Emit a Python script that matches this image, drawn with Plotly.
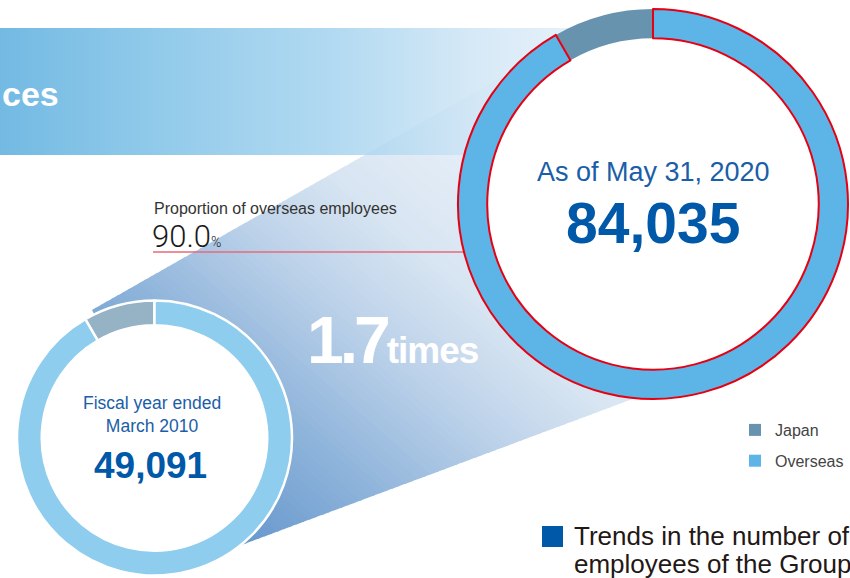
import numpy as np
import plotly.graph_objects as go

# ---------------- data ----------------
segments = ["Japan", "Overseas"]
share_2010 = [8.4, 91.6]
share_2020 = [8.3, 91.7]
total_2010 = "49,091"
total_2020 = "84,035"
label_2010 = ["Fiscal year ended", "March 2010"]
label_2020 = "As of May 31, 2020"
overseas_ratio = "90.0"
growth = "1.7"
title_lines = ["Trends in the number of", "employees of the Group"]

# ---------------- styling ----------------
W, H = 850, 578
C_SMALL, R_SMALL, HOLE_SMALL = (154.5, 438.0), 137.5, 0.82
C_BIG, R_BIG, HOLE_BIG = (653.0, 204.0), 195.0, 0.85
COL_2010 = ["#95B3C5", "#8FCDEE"]
COL_2020 = ["#6893AE", "#5DB4E7"]
BLUE_TXT = "#1A5EA8"
BLUE_NUM = "#0058A8"
FONT = "Liberation Sans, Arial, sans-serif"

fig = go.Figure()

# ---- diagonal gradient "cone" between the two rings (decoration) ----
cone = [(92, 310), (560, 44), (662, 388), (228, 550), (154.5, 438)]
gd = np.array([0.658, -0.753])
stops = [(-265, (98, 148, 203)), (-130, (141, 179, 218)), (0, (190, 211, 234)),
         (90, (216, 229, 242)), (230, (233, 241, 249)), (340, (242, 246, 251))]


def col_at(p):
    ps = [s[0] for s in stops]
    rgb = [np.interp(p, ps, [s[1][k] for s in stops]) for k in range(3)]
    return "rgb(%d,%d,%d)" % tuple(int(round(v)) for v in rgb)


def clip(poly, n, c, sign):
    out = []
    m = len(poly)
    for i in range(m):
        a, b = np.array(poly[i]), np.array(poly[(i + 1) % m])
        fa, fb = sign * (a @ n - c), sign * (b @ n - c)
        if fa >= 0:
            out.append(tuple(a))
        if fa * fb < 0:
            t = fa / (fa - fb)
            out.append(tuple(a + t * (b - a)))
    return out


proj = [np.array(p) @ gd for p in cone]
edges = np.arange(min(proj) - 1, max(proj) + 7, 6)
for a, b in zip(edges[:-1], edges[1:]):
    poly = clip(cone, gd, a - 0.8, 1)
    if len(poly) < 3:
        continue
    poly = clip(poly, gd, b + 0.8, -1)
    if len(poly) < 3:
        continue
    xs = [p[0] for p in poly] + [poly[0][0]]
    ys = [p[1] for p in poly] + [poly[0][1]]
    fig.add_trace(go.Scatter(x=xs, y=ys, mode="lines", fill="toself",
                             fillcolor=col_at((a + b) / 2), line=dict(width=0),
                             hoverinfo="skip", showlegend=False))

# ---- header banner (horizontal gradient) ----
fig.add_trace(go.Scatter(
    x=[0, 600, 600, 0, 0], y=[28, 28, 155, 155, 28], mode="lines", fill="toself",
    line=dict(width=0), hoverinfo="skip", showlegend=False,
    fillgradient=dict(type="horizontal", start=0, stop=600,
                      colorscale=[[0, "rgba(96,176,223,0.88)"],
                                  [0.25, "rgba(124,192,230,0.85)"],
                                  [0.55, "rgba(160,209,238,0.82)"],
                                  [0.8, "rgba(207,229,245,0.82)"],
                                  [1, "rgba(228,240,250,0.82)"]])))

# ---- red rule under the overseas ratio ----
fig.add_trace(go.Scatter(x=[153, 480], y=[252, 252], mode="lines",
                         line=dict(color="#E66B7A", width=1.3),
                         hoverinfo="skip", showlegend=False))

# ---- white discs behind the ring holes ----
th = np.linspace(0, 2 * np.pi, 200)
for (cx, cy), r, h in [(C_SMALL, R_SMALL, HOLE_SMALL), (C_BIG, R_BIG, HOLE_BIG)]:
    rr = r * (1 + h) / 2
    fig.add_trace(go.Scatter(x=cx + rr * np.cos(th), y=cy + rr * np.sin(th),
                             mode="lines", fill="toself", fillcolor="white",
                             line=dict(width=0), hoverinfo="skip", showlegend=False))


def dom(c, r):
    cx, cy = c
    return dict(x=[(cx - r) / W, (cx + r) / W],
                y=[(H - cy - r) / H, (H - cy + r) / H])


# ---- donut charts (Japan slice runs from 12 o'clock towards the left) ----
fig.add_trace(go.Pie(labels=segments, values=share_2010, hole=HOLE_SMALL, sort=False,
                     direction="clockwise", rotation=-share_2010[0] * 3.6, textinfo="none",
                     marker=dict(colors=COL_2010, line=dict(color="white", width=2.5)),
                     domain=dom(C_SMALL, R_SMALL), showlegend=False))
fig.add_trace(go.Pie(labels=segments, values=share_2020, hole=HOLE_BIG, sort=False,
                     direction="clockwise", rotation=-share_2020[0] * 3.6, textinfo="none",
                     marker=dict(colors=COL_2020,
                                 line=dict(color=["rgba(0,0,0,0)", "#E60012"], width=[0, 2])),
                     domain=dom(C_BIG, R_BIG), showlegend=False))

# ---- legend entries ----
for i, (name, c) in enumerate(zip(segments, COL_2020)):
    fig.add_trace(go.Scatter(x=[None], y=[None], mode="markers", name=name,
                             legendgroup=name,
                             marker=dict(symbol="square", size=12, color=c)))

ann = []


def txt(x, y, text, size, color, xanchor="center", bold=False, family=FONT, weight=None):
    f = dict(size=size, color=color, family=family)
    if weight:
        f["weight"] = weight
    ann.append(dict(x=x, y=y, xref="x", yref="y", text=("<b>%s</b>" % text) if bold else text,
                    showarrow=False, xanchor=xanchor, yanchor="middle", font=f, align="center"))


txt(0, 94, "ces", 34, "white", xanchor="left", bold=True)
txt(152, 208, "Proportion of overseas employees", 16, "#333333", xanchor="left")
txt(150, 236, overseas_ratio + "<span style='font-size:14px'>%</span>", 31, "#1a1a1a",
    xanchor="left", family="Roboto", weight=300)
txt(653, 172, label_2020, 27, BLUE_TXT)
txt(653, 223, total_2020, 57, BLUE_NUM, bold=True)
txt(152, 414, "<br>".join(label_2010), 17.5, BLUE_TXT)
txt(150, 465, total_2010, 37, BLUE_NUM, bold=True)
txt(393, 340, "<span style='letter-spacing:-4px'>" + growth + "</span>"
    "<span style='font-size:37px;letter-spacing:-1px'>times</span>", 66, "white", bold=True)
txt(572, 536, title_lines[0], 26, "#231815", xanchor="left")
txt(572, 564, title_lines[1], 26, "#231815", xanchor="left")

fig.update_layout(
    width=W, height=H, margin=dict(l=0, r=0, t=0, b=0),
    paper_bgcolor="white", plot_bgcolor="white",
    xaxis=dict(range=[0, W], visible=False, fixedrange=True),
    yaxis=dict(range=[H, 0], visible=False, fixedrange=True),
    showlegend=True,
    legend=dict(x=735 / W, y=1 - 413 / H, xanchor="left", yanchor="top",
                bgcolor="rgba(0,0,0,0)", tracegroupgap=7,
                font=dict(size=16, color="#444444", family=FONT)),
    annotations=ann,
    shapes=[dict(type="rect", xref="x", yref="y", x0=542, x1=563, y0=526, y1=547,
                 fillcolor="#0058A8", line=dict(width=0))],
)

fig.write_html("out.html")
